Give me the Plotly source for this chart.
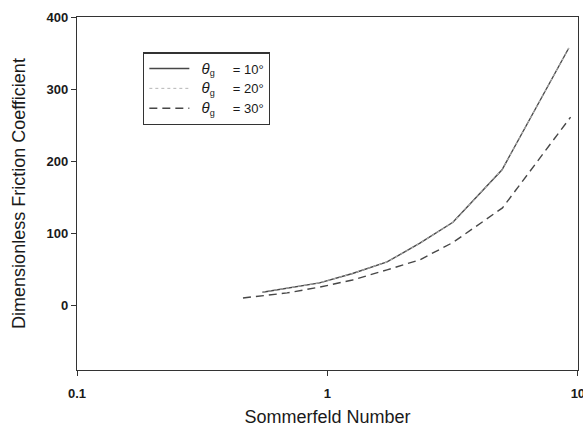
import plotly.graph_objects as go

# Sommerfeld number (x) and dimensionless friction coefficient (y)
s_10 = [0.55, 0.69, 0.93, 1.26, 1.73, 2.34, 3.17, 4.98, 9.2]
f_10 = [18, 24, 31, 44, 60, 86, 115, 188, 357]

s_20 = [0.55, 0.69, 0.93, 1.26, 1.73, 2.34, 3.17, 4.98, 9.2]
f_20 = [18, 24, 31, 44, 60, 86, 115, 188, 357]

s_30 = [0.46, 0.69, 0.93, 1.26, 1.73, 2.34, 3.17, 5.0, 9.35]
f_30 = [10, 17, 25, 35, 49, 63, 87, 135, 261]

x_ticks = [0.1, 1, 10]
x_tick_labels = ["0.1", "1", "10"]
y_ticks = [0, 100, 200, 300, 400]

NB = "\u00a0"
names = [
    f"{NB*2}<span style='font-size:15px'><i>θ</i></span><sub>g</sub>{NB*5}= 10°",
    f"{NB*2}<span style='font-size:15px'><i>θ</i></span><sub>g</sub>{NB*5}= 20°",
    f"{NB*2}<span style='font-size:15px'><i>θ</i></span><sub>g</sub>{NB*5}= 30°",
]

line_col = "#474747"
fig = go.Figure()
fig.add_trace(go.Scatter(x=s_10, y=f_10, mode="lines", name=names[0],
                         line=dict(color=line_col, width=1.4, dash="solid")))
fig.add_trace(go.Scatter(x=s_20, y=f_20, mode="lines", name=names[1],
                         line=dict(color="#b5b5b5", width=1.0, dash="dot")))
fig.add_trace(go.Scatter(x=s_30, y=f_30, mode="lines", name=names[2],
                         line=dict(color=line_col, width=1.4, dash="8px,5px")))

font_family = "Liberation Sans, Arial, sans-serif"

fig.update_layout(
    width=583, height=440,
    margin=dict(l=77, r=5, t=17, b=70),
    paper_bgcolor="white", plot_bgcolor="white",
    font=dict(family=font_family, color="#1a1a1a", size=13),
    showlegend=True,
    legend=dict(
        x=0.132, y=0.90, xanchor="left", yanchor="top",
        bordercolor="#333", borderwidth=1.2, bgcolor="white",
        font=dict(size=13, family=font_family, color="#1a1a1a"),
        tracegroupgap=0, itemwidth=40,
    ),
    xaxis=dict(
        type="log", range=[-1, 1.0005],
        tickvals=x_ticks, ticktext=x_tick_labels,
        showline=True, linecolor="#333", linewidth=1.2, mirror=True,
        ticks="outside", ticklen=5, tickcolor="#333",
        showgrid=False, zeroline=False, ticklabelstandoff=6,
        ticklabeloverflow="allow",
        tickfont=dict(size=13, family=font_family, color="#1a1a1a", weight="bold"),
        title=dict(text="Sommerfeld Number", font=dict(size=18, family=font_family, color="#1a1a1a"),
                   standoff=10),
        automargin=False,
    ),
    yaxis=dict(
        range=[-90, 400],
        tickvals=y_ticks,
        showline=True, linecolor="#333", linewidth=1.2, mirror=True,
        ticks="outside", ticklen=5, tickcolor="#333",
        showgrid=False, zeroline=False,
        tickfont=dict(size=13, family=font_family, color="#1a1a1a", weight="bold"),
        title=dict(text="Dimensionless Friction Coefficient",
                   font=dict(size=18, family=font_family, color="#1a1a1a"), standoff=16),
        automargin=False,
    ),
)

fig.write_html("out.html")
